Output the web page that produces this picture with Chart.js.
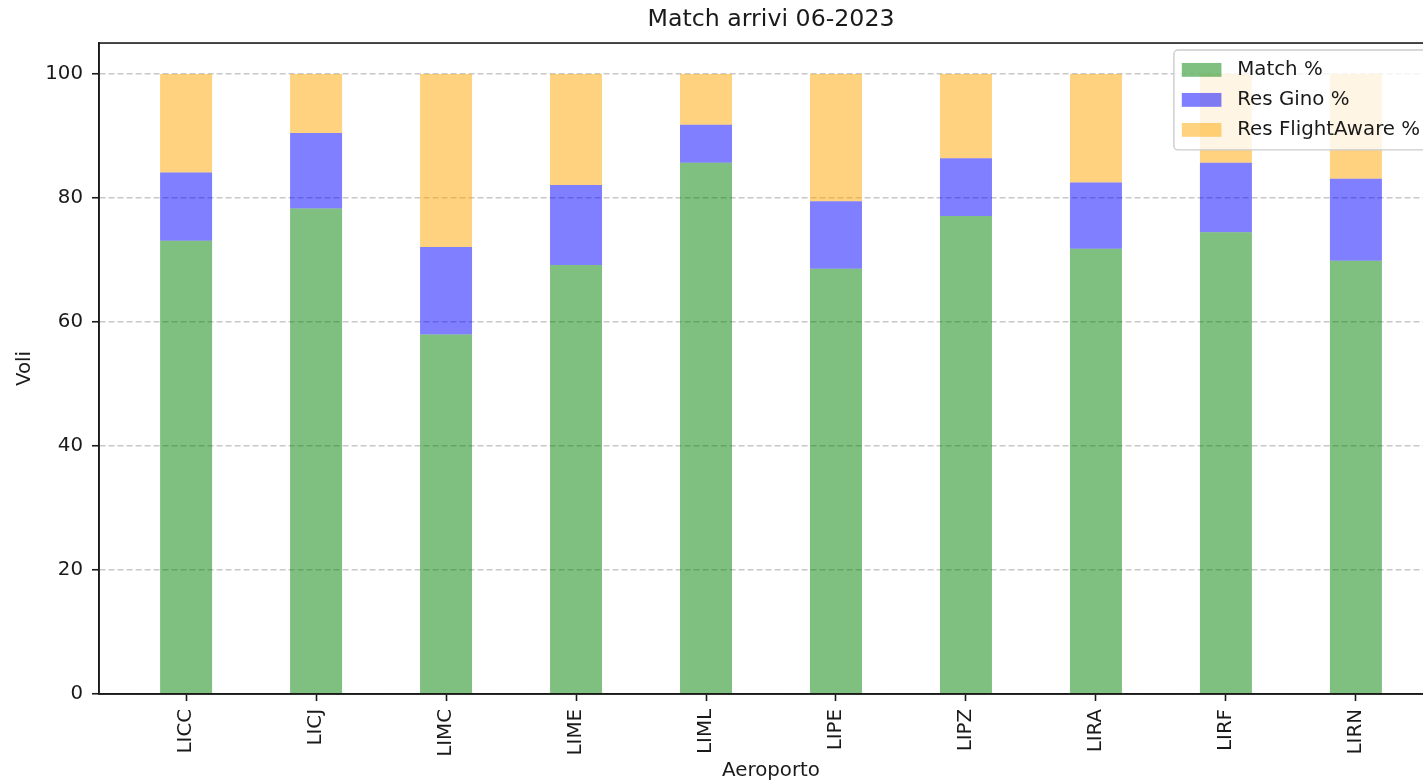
<!DOCTYPE html>
<html>
<head>
<meta charset="utf-8">
<script src="https://cdn.jsdelivr.net/npm/chart.js@4.4.0/dist/chart.umd.min.js"></script>
<style>
  html, body { margin: 0; padding: 0; background: #fff; overflow: hidden; }
  #wrap { position: relative; width: 1460px; height: 783px; }
</style>
</head>
<body>
<div id="wrap"><canvas id="myChart"></canvas></div>
<script>
const categories = ['LICC', 'LICJ', 'LIMC', 'LIME', 'LIML', 'LIPE', 'LIPZ', 'LIRA', 'LIRF', 'LIRN']
const matchPct = [73.1, 78.3, 58.0, 69.2, 85.7, 68.6, 77.1, 71.8, 74.5, 69.9]
const resGinoPct = [11.0, 12.2, 14.1, 12.9, 6.1, 10.9, 9.3, 10.7, 11.2, 13.2]
const resFlightAwarePct = [15.9, 9.5, 27.9, 17.9, 8.2, 20.5, 13.6, 17.5, 14.3, 16.9]
const seriesNames = ['Match %', 'Res Gino %', 'Res FlightAware %']
const yTicks = [0, 20, 40, 60, 80, 100]

const FONT = 'DejaVu Sans'
const INK = '#1a1a1a'

const toPoints = arr => arr.map((v, i) => ({ x: i, y: v }))

// cornice completa degli assi (anche sopra e a destra)
const frame = {
    id: 'frame',
    afterDatasetsDraw(chart) {
        const { ctx, chartArea: a } = chart
        ctx.save()
        ctx.strokeStyle = INK
        ctx.lineWidth = 1.6
        ctx.strokeRect(a.left, a.top, a.right - a.left, a.bottom - a.top)
        ctx.restore()
    }
}

// legenda dentro il grafico, in alto a destra
const insideLegend = {
    id: 'insideLegend',
    afterDraw(chart) {
        const { ctx, chartArea: a } = chart
        const fs = 19.8
        ctx.save()
        ctx.font = `${fs}px "${FONT}"`
        const textW = Math.max(...seriesNames.map(n => ctx.measureText(n).width))
        const pad = 0.4 * fs, handleW = 2 * fs, handleH = 0.7 * fs, gap = 0.8 * fs
        const rowH = 30
        const w = pad + handleW + gap + textW + pad
        const h = pad * 2 + rowH * seriesNames.length - 0.5 * fs + 4
        const x = a.right - 15 - w
        const y = a.top + 0.35 * fs
        ctx.fillStyle = 'rgba(255,255,255,0.8)'
        ctx.strokeStyle = '#cccccc'
        ctx.lineWidth = 1.4
        ctx.beginPath()
        ctx.roundRect(x, y, w, h, 4)
        ctx.fill()
        ctx.stroke()
        chart.data.datasets.forEach((ds, i) => {
            const cy = y + pad + 12 + i * rowH
            ctx.fillStyle = ds.backgroundColor
            ctx.fillRect(x + pad, cy - handleH / 2, handleW, handleH)
            ctx.fillStyle = INK
            ctx.textBaseline = 'middle'
            ctx.textAlign = 'left'
            ctx.fillText(ds.label, x + pad + handleW + gap, cy)
        })
        ctx.restore()
    }
}

new Chart(document.getElementById('myChart'), {
    type: 'bar',
    data: {
        datasets: [
            { label: seriesNames[0], data: toPoints(matchPct), backgroundColor: 'rgba(0,128,0,0.5)' },
            { label: seriesNames[1], data: toPoints(resGinoPct), backgroundColor: 'rgba(0,0,255,0.5)' },
            { label: seriesNames[2], data: toPoints(resFlightAwarePct), backgroundColor: 'rgba(255,165,0,0.5)' },
        ]
    },
    options: {
        responsive: true,
        maintainAspectRatio: false,
        animation: false,
        layout: { padding: { left: 0, right: 17, top: 0, bottom: 0 } },
        datasets: {
            bar: { categoryPercentage: 0.4, barPercentage: 1.0, borderWidth: 0 }
        },
        plugins: {
            legend: { display: false },
            tooltip: { enabled: false },
            title: {
                display: true,
                fullSize: false,
                text: 'Match arrivi 06-2023',
                color: INK,
                font: { family: FONT, size: 23.7, weight: 'normal' },
                padding: { top: 6, bottom: 8.6 }
            }
        },
        scales: {
            x: {
                type: 'linear',
                stacked: true,
                offset: false,
                min: -0.67,
                max: 9.67,
                afterBuildTicks: axis => { axis.ticks = categories.map((c, i) => ({ value: i })) },
                afterFit: axis => { axis.height = 89; axis.paddingLeft = 0; axis.paddingRight = 0 },
                ticks: {
                    autoSkip: false,
                    minRotation: 90,
                    maxRotation: 90,
                    padding: 8,
                    color: INK,
                    font: { family: FONT, size: 19.8 },
                    callback: v => categories[v]
                },
                grid: { offset: false, drawOnChartArea: false, drawTicks: true, tickLength: 7, tickColor: INK, tickWidth: 1.6 },
                border: { display: true, color: INK, width: 1.6 },
                title: {
                    display: true,
                    text: 'Aeroporto',
                    color: INK,
                    font: { family: FONT, size: 19.8 },
                    padding: { top: 0, bottom: 0 }
                }
            },
            y: {
                stacked: true,
                min: 0,
                max: 105,
                afterBuildTicks: axis => { axis.ticks = yTicks.map(v => ({ value: v })) },
                afterFit: axis => { axis.width = 99; axis.paddingTop = 0; axis.paddingBottom = 0 },
                ticks: {
                    padding: 9,
                    color: INK,
                    font: { family: FONT, size: 19.8 }
                },
                grid: {
                    color: '#c8c8c8',
                    lineWidth: 1.5,
                    drawTicks: true,
                    tickLength: 7,
                    tickColor: INK,
                    tickWidth: 1.6,
                    tickBorderDash: []
                },
                border: { display: true, color: INK, width: 1.6, dash: [6, 3] },
                title: {
                    display: true,
                    text: 'Voli',
                    color: INK,
                    font: { family: FONT, size: 19.8 },
                    padding: { top: 13, bottom: 0 }
                }
            }
        }
    },
    plugins: [frame, insideLegend]
})
</script>
</body>
</html>
